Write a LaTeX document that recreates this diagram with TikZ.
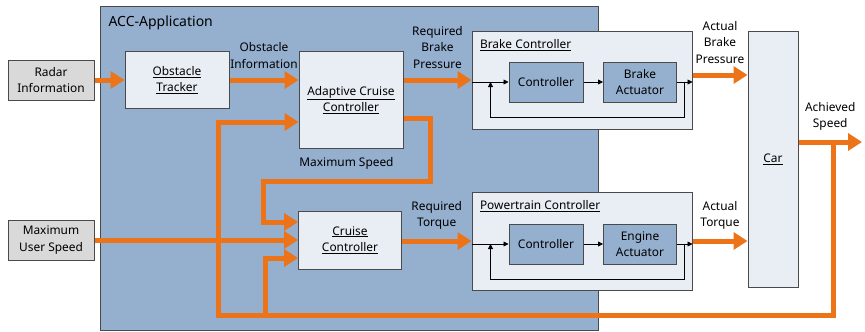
\documentclass[tikz,border=0pt]{standalone}
\usepackage{fontspec}
\setmainfont{Noto Sans}
\usepackage{tikz}
\usetikzlibrary{arrows.meta,positioning,calc}

\definecolor{appblue}{HTML}{95AFCF}
\definecolor{boxgray}{HTML}{E9EEF5}
\definecolor{extgray}{HTML}{D9D9D9}
\definecolor{floworange}{HTML}{EC7317}
\definecolor{edgegray}{HTML}{4A4A4A}

\begin{document}
\begin{tikzpicture}[x=1pt, y=-1pt,
  font=\fontsize{11.9}{16.5}\selectfont,
  app/.style={rectangle, draw=edgegray, fill=appblue, line width=1pt, minimum width=498pt, minimum height=324pt},
  block/.style={rectangle, draw=edgegray, fill=boxgray, line width=1pt, align=center, inner sep=0pt},
  ext/.style={rectangle, draw=edgegray, fill=extgray, line width=1pt, align=center, minimum width=86pt, minimum height=40pt, inner sep=0pt},
  unit/.style={rectangle, draw=edgegray, fill=appblue, line width=1pt, align=center, minimum width=74pt, minimum height=40pt, inner sep=0pt},
  group/.style={rectangle, draw=edgegray, fill=boxgray, line width=1pt, minimum width=220pt, minimum height=98pt},
  flow/.style={draw=floworange, line width=5pt, -{Triangle[length=14pt,width=17pt]}},
  sig/.style={draw=black, line width=0.8pt, -{Triangle[length=5pt,width=5pt]}},
  lbl/.style={align=center, inner sep=2pt, above=7pt}]

  \useasboundingbox (0,0) rectangle (865,332);

  \node [app] (accapp) at (349,168) {};
  \node [anchor=base west, font=\fontsize{14}{16}\selectfont] (apptitle) at (105,26) {ACC-Application};

  \node [ext] (radar) at (51,80) {Radar\\Information};
  \node [ext] (muser) at (51,240) {Maximum\\User Speed};

  \node [block, minimum width=104pt, minimum height=57pt] (tracker) at (177,80) {\underline{Obstacle}\\\underline{Tracker}};
  \node [block, minimum width=104pt, minimum height=97pt] (acc) at (351,100) {\underline{Adaptive Cruise}\\\underline{Controller}};
  \node [block, minimum width=103pt, minimum height=58pt] (cruise) at (350,240) {\underline{Cruise}\\\underline{Controller}};

  \node [group] (brake) at (582,80) {};
  \node [anchor=base west] (braketitle) at ($(brake.north west)+(5,18)$) {\underline{Brake Controller}};
  \node [unit] (bctrl) at (546,82) {Controller};
  \node [unit, minimum width=73pt] (bact) at (640,82) {Brake\\Actuator};

  \node [group] (power) at (582,241) {};
  \node [anchor=base west] (powertitle) at ($(power.north west)+(5,18)$) {\underline{Powertrain Controller}};
  \node [unit] (pctrl) at (546,244) {Controller};
  \node [unit, minimum width=73pt] (pact) at (640,244) {Engine\\Actuator};

  \node [block, minimum width=50pt, minimum height=256pt] (car) at (773,159) {\underline{Car}};

  \coordinate (bp) at ($(brake.east)+(0,-5)$);
  \coordinate (out) at (862,142);
  \coordinate (tap) at (833,142);
  \coordinate (fbr) at (833,315);
  \coordinate (fbl) at (218,315);
  \coordinate (fbc) at (265,315);
  \coordinate (msr) at (430,181);
  \coordinate (msl) at (263,181);

  \draw [flow] (radar) -- (tracker);
  \draw [flow] (tracker) -- node [lbl] {Obstacle\\Information} (tracker -| acc.west);
  \draw [flow] (acc.east |- brake.west) -- node [lbl] {Required\\Brake\\Pressure} (brake.west);
  \draw [flow] (bp) -- node [lbl] {Actual\\Brake\\Pressure} (bp -| car.west);
  \draw [flow] (muser) -- (cruise);
  \draw [flow] (cruise.east |- power.west) -- node [lbl] {Required\\Torque} (power.west);
  \draw [flow] (power.east) -- node [lbl] {Actual\\Torque} (power.east -| car.west);
  \draw [flow] (car.east |- out) -- node [lbl] {Achieved\\Speed} (out);
  \draw [flow] (tap) -- (fbr) -- (fbl) |- ($(acc.west)+(0,22)$);
  \draw [flow] (fbc) |- ($(cruise.west)+(0,18)$);
  \draw [flow] ($(acc.east)+(0,18)$) -| (msr) -- node [lbl] {Maximum Speed} (msl) |- ($(cruise.west)+(0,-18)$);

  \draw [sig] (brake.west |- bctrl) -- (bctrl);
  \draw [sig] (bctrl) -- (bact);
  \draw [sig] (bact) -- (bact -| brake.east);
  \draw [sig] ($(bact.east)+(7,0)$) -- ++(0,35) -| ($(bctrl.west)+(-18,0)$);

  \draw [sig] (power.west |- pctrl) -- (pctrl);
  \draw [sig] (pctrl) -- (pact);
  \draw [sig] (pact) -- (pact -| power.east);
  \draw [sig] ($(pact.east)+(7,0)$) -- ++(0,35) -| ($(pctrl.west)+(-18,0)$);
\end{tikzpicture}
\end{document}
